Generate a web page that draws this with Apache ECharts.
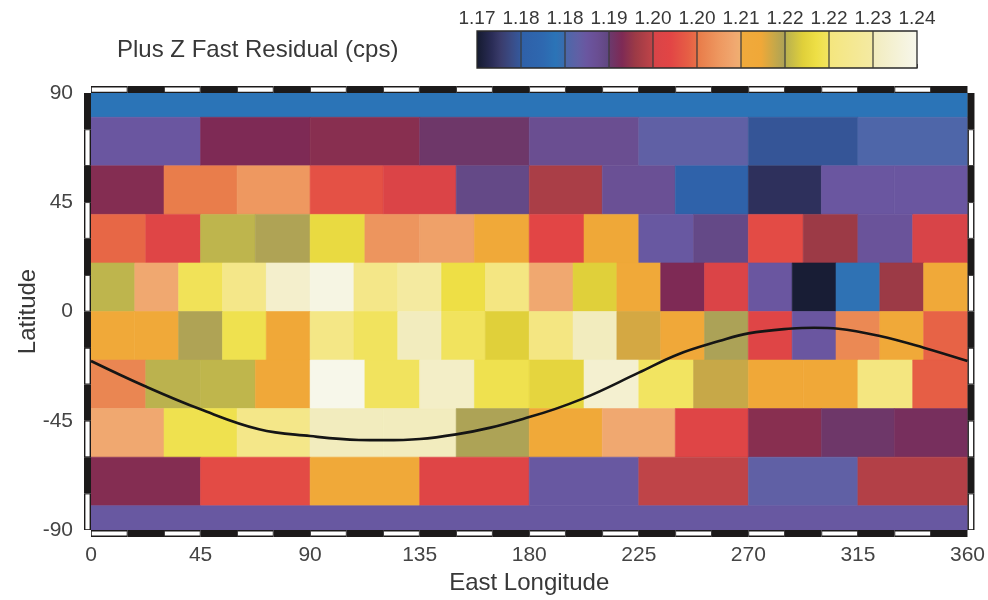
<!DOCTYPE html>
<html>
<head>
<meta charset="utf-8">
<script src="https://cdn.jsdelivr.net/npm/echarts@6/dist/echarts.min.js"></script>
<style>html,body{margin:0;padding:0;background:#fff;}#chart{width:988px;height:600px;}</style>
</head>
<body>
<div id="chart"></div>
<script>
// ---------------- DATA ----------------
// latitude bands, top to bottom: [latMin, latMax]
const latBands = [[80,90],[60,80],[40,60],[20,40],[0,20],[-20,0],[-40,-20],[-60,-40],[-80,-60],[-90,-80]];
// residual values (cps) per band, west to east starting at 0 E; cells split each band evenly
const band80to90   = [1.1826];
const band60to80   = [1.1875, 1.1931, 1.1938, 1.1914, 1.1893, 1.1861, 1.1767, 1.1844];
const band40to60   = [1.1935, 1.2054, 1.2085, 1.2022, 1.1987, 1.1903, 1.1963, 1.1889, 1.1777, 1.1728, 1.1875, 1.1875];
const band20to40   = [1.2043, 1.2001, 1.2194, 1.2187, 1.2232, 1.2082, 1.2099, 1.2141, 1.2008, 1.2152, 1.1872, 1.1903, 1.2015, 1.1952, 1.1882, 1.1981];
const band0to20    = [1.2194, 1.2110, 1.2253, 1.2281, 1.2351, 1.2386, 1.2281, 1.2323, 1.2239, 1.2267, 1.2110, 1.2218, 1.2141, 1.1931, 1.1987, 1.1875, 1.1704, 1.1830, 1.1952, 1.2141];
const bandM20to0   = [1.2141, 1.2141, 1.2187, 1.2246, 1.2148, 1.2274, 1.2257, 1.2330, 1.2257, 1.2218, 1.2267, 1.2330, 1.2166, 1.2145, 1.2189, 1.2001, 1.1875, 1.2068, 1.2141, 1.2040];
const bandM40toM20 = [1.2064, 1.2192, 1.2195, 1.2145, 1.2397, 1.2257, 1.2344, 1.2246, 1.2225, 1.2358, 1.2259, 1.2173, 1.2148, 1.2148, 1.2264, 1.2036];
const bandM60toM40 = [1.2110, 1.2246, 1.2281, 1.2330, 1.2330, 1.2188, 1.2141, 1.2110, 1.2001, 1.1938, 1.1914, 1.1924];
const bandM80toM60 = [1.1935, 1.2015, 1.2141, 1.2001, 1.1872, 1.1979, 1.1861, 1.1970];
const bandM90toM80 = [1.1872];
const bandValues = [band80to90, band60to80, band40to60, band20to40, band0to20, bandM20to0, bandM40toM20, bandM60toM40, bandM80toM60, bandM90toM80];

// colour bar
const colorbarLabels = ['1.17','1.18','1.18','1.19','1.20','1.20','1.21','1.22','1.22','1.23','1.24'];
const valueMin = 1.17, valueMax = 1.24;

// overlaid curve
const curveLon = [0, 22, 45, 69, 90, 110, 120, 150, 180, 202, 225, 241, 258, 270, 288, 297, 307, 324, 342, 360];
const curveLat = [-20.4, -30.7, -40.3, -48.5, -51.3, -52.9, -53.0, -50.6, -43.5, -35.9, -25.2, -17.7, -12.2, -9.0, -7.0, -6.7, -7.1, -10.1, -14.9, -20.4];

// ---------------- COLOUR MAP ----------------
// position along bar in segments (0..10), colour
const cmapStops = [
  [0,'#141a2e'],[0.35,'#2a2c56'],[0.55,'#3a3c6c'],[0.8,'#3a4c86'],[1.0,'#34589c'],
  [1.0,'#2f60a8'],[1.5,'#2e68b0'],[1.8,'#2b74b7'],[2.0,'#3a6cae'],
  [2.0,'#4a68aa'],[2.3,'#6060a5'],[2.5,'#6a56a0'],[2.75,'#6a4e92'],[3.0,'#604680'],
  [3.0,'#6a3a6e'],[3.3,'#7e2a55'],[3.6,'#9c3a46'],[4.0,'#c04448'],
  [4.0,'#d84448'],[4.4,'#e24545'],[4.8,'#e65e45'],[5.0,'#e87048'],
  [5.0,'#e87a48'],[5.5,'#ee9860'],[5.85,'#f0a870'],[6.0,'#f0b070'],
  [6.0,'#f0aa3c'],[6.45,'#f0a838'],[6.75,'#c8a848'],[7.0,'#aaa258'],
  [7.0,'#b8b050'],[7.4,'#e0d03a'],[7.7,'#eedf45'],[8.0,'#f2e462'],
  [8.0,'#f4e67e'],[9.0,'#f4eaa4'],
  [9.0,'#f2ecbe'],[10,'#f7f7ec']
];
function hexToRgb(h){return [parseInt(h.substr(1,2),16),parseInt(h.substr(3,2),16),parseInt(h.substr(5,2),16)];}
function colorAt(v){
  let t = (v - valueMin) / (valueMax - valueMin) * 10;
  t = Math.max(0, Math.min(10, t));
  for (let i = 0; i < cmapStops.length - 1; i++) {
    const a = cmapStops[i], b = cmapStops[i+1];
    if (b[0] > a[0] && t >= a[0] && t <= b[0]) {
      const f = (t - a[0]) / (b[0] - a[0]);
      const ca = hexToRgb(a[1]), cb = hexToRgb(b[1]);
      const c = ca.map((x, k) => Math.round(x + (cb[k] - x) * f));
      return 'rgb(' + c.join(',') + ')';
    }
  }
  return cmapStops[cmapStops.length-1][1];
}

// ---------------- BUILD CELLS ----------------
const cellData = [];
latBands.forEach((band, r) => {
  const vals = bandValues[r];
  const w = 360 / vals.length;
  vals.forEach((v, i) => cellData.push([i * w, (i + 1) * w, band[0], band[1], v]));
});
const curveData = curveLon.map((lon, i) => [lon, curveLat[i]]);

const FONT = '"Liberation Sans", Arial, Helvetica, sans-serif';
const chart = echarts.init(document.getElementById('chart'), null, {renderer: 'canvas'});

const option = {
  animation: false,
  backgroundColor: '#ffffff',
  textStyle: {fontFamily: FONT},
  title: {
    text: 'Plus Z Fast Residual (cps)',
    left: 112, top: 33,
    textStyle: {fontSize: 24, fontWeight: 'normal', color: '#383838', fontFamily: FONT}
  },
  grid: [
    {left: 91, right: 18, top: 93, bottom: 69},
    {left: 477, top: 31, width: 440, height: 37}
  ],
  xAxis: [
    {
      gridIndex: 0, type: 'value', min: 0, max: 360, interval: 45,
      axisLine: {show: false}, axisTick: {show: false}, splitLine: {show: false},
      axisLabel: {fontSize: 21, color: '#444', margin: 15, fontFamily: FONT},
      name: 'East Longitude', nameLocation: 'middle', nameGap: 41, nameMoveOverlap: false,
      nameTextStyle: {fontSize: 24, color: '#383838', fontFamily: FONT}
    },
    {
      gridIndex: 1, type: 'value', min: 0, max: 10, interval: 1, position: 'top',
      axisLine: {show: false},
      axisTick: {show: true, length: 4, lineStyle: {color: '#555', width: 1}},
      splitLine: {show: false},
      axisLabel: {fontSize: 19, color: '#383838', margin: 3, fontFamily: FONT,
                  formatter: v => colorbarLabels[Math.round(v)]}
    }
  ],
  yAxis: [
    {
      gridIndex: 0, type: 'value', min: -90, max: 90, interval: 45,
      axisLine: {show: false}, axisTick: {show: false}, splitLine: {show: false},
      axisLabel: {fontSize: 21, color: '#444', margin: 18, fontFamily: FONT},
      name: 'Latitude', nameLocation: 'middle', nameGap: 51, nameMoveOverlap: false,
      nameTextStyle: {fontSize: 24, color: '#383838', fontFamily: FONT}
    },
    {gridIndex: 1, type: 'value', min: 0, max: 1, show: false}
  ],
  series: [
    {
      type: 'custom', name: 'cells', xAxisIndex: 0, yAxisIndex: 0, silent: true,
      encode: {x: [0, 1], y: [2, 3]},
      data: cellData,
      renderItem: function (params, api) {
        const p0 = api.coord([api.value(0), api.value(3)]);
        const p1 = api.coord([api.value(1), api.value(2)]);
        const c = colorAt(api.value(4));
        return {type: 'rect',
          shape: {x: p0[0], y: p0[1], width: p1[0] - p0[0], height: p1[1] - p0[1]},
          style: {fill: c, stroke: c, lineWidth: 0.6}};
      },
      z: 1
    },
    {
      type: 'line', name: 'curve', xAxisIndex: 0, yAxisIndex: 0, silent: true,
      data: curveData, smooth: 0.4, symbol: 'none',
      lineStyle: {color: '#151515', width: 2.6}, z: 5
    },
    {
      type: 'custom', name: 'frame', xAxisIndex: 0, yAxisIndex: 0, silent: true,
      data: [[0, 0]], z: 6,
      renderItem: function (params, api) {
        const children = [];
        const tl = api.coord([0, 90]), br = api.coord([360, -90]);
        const T = 7;
        // top & bottom strips
        for (let k = 0; k < 24; k++) {
          const xa = api.coord([15 * k, 90])[0], xb = api.coord([15 * k + 15, 90])[0];
          [[tl[1] - T, 1.6, 1.2], [br[1], 1.6, 1.6]].forEach(s => {
            children.push({type: 'rect', shape: {x: xa, y: s[0], width: xb - xa, height: T}, style: {fill: '#1c1a1a'}});
            if (k % 2 === 0) {
              children.push({type: 'rect', shape: {x: xa + 0.8, y: s[0] + s[1], width: xb - xa - 1.6, height: T - s[1] - s[2]}, style: {fill: '#ffffff'}});
            }
          });
        }
        // left & right strips
        for (let k = 0; k < 12; k++) {
          const ya = api.coord([0, 90 - 15 * k])[1], yb = api.coord([0, 75 - 15 * k])[1];
          [[tl[0] - T, 1.4, 1.4], [br[0], 1.4, 1.4]].forEach(s => {
            children.push({type: 'rect', shape: {x: s[0], y: ya, width: T, height: yb - ya}, style: {fill: '#1c1a1a'}});
            if (k % 2 === 1) {
              children.push({type: 'rect', shape: {x: s[0] + s[1], y: ya + 0.8, width: T - s[1] - s[2], height: yb - ya - 1.6}, style: {fill: '#ffffff'}});
            }
          });
        }
        return {type: 'group', children: children};
      }
    },
    {
      type: 'custom', name: 'colorbar', xAxisIndex: 1, yAxisIndex: 1, silent: true,
      data: [[0, 0]], z: 3,
      renderItem: function (params, api) {
        const p0 = api.coord([0, 1]), p1 = api.coord([10, 0]);
        const grad = new echarts.graphic.LinearGradient(0, 0, 1, 0,
          cmapStops.map(s => ({offset: s[0] / 10, color: s[1]})));
        const children = [{type: 'rect',
          shape: {x: p0[0], y: p0[1], width: p1[0] - p0[0], height: p1[1] - p0[1]},
          style: {fill: grad, stroke: '#2a2a2a', lineWidth: 1.3}}];
        for (let i = 1; i < 10; i++) {
          const x = api.coord([i, 0])[0];
          children.push({type: 'line', shape: {x1: x, y1: p0[1], x2: x, y2: p1[1]},
            style: {stroke: '#3a3a3a', lineWidth: 1.2}});
        }
        return {type: 'group', children: children};
      }
    }
  ]
};
chart.setOption(option);
</script>
</body>
</html>
